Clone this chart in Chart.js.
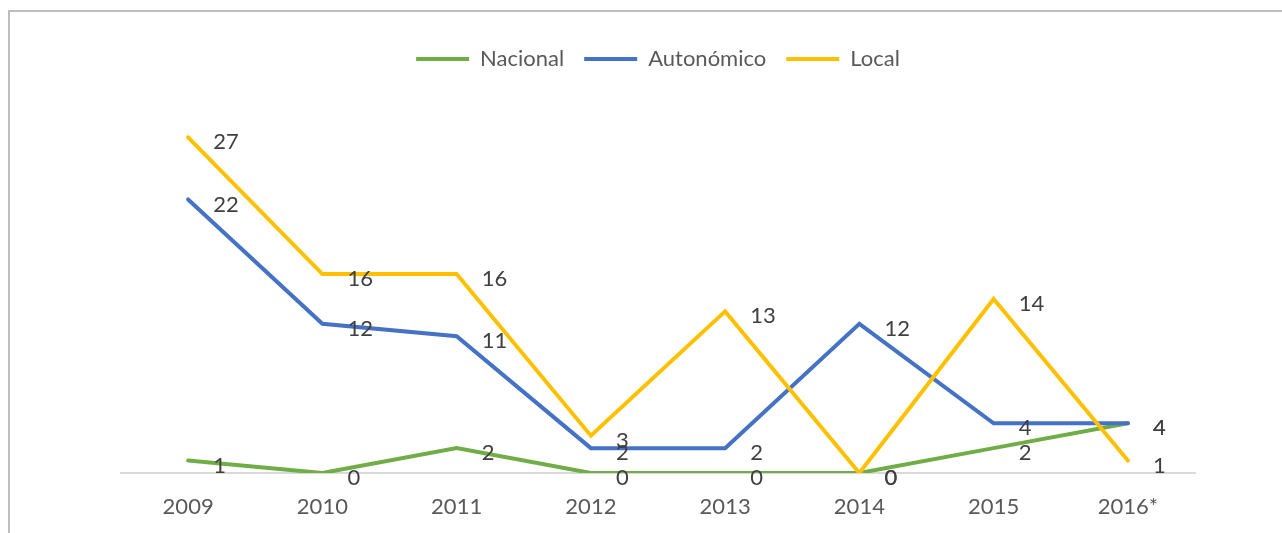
<!DOCTYPE html>
<html>
<head>
<meta charset="utf-8">
<script src="https://cdn.jsdelivr.net/npm/chart.js@4.4.0/dist/chart.umd.min.js"></script>
<style>
  body { margin: 0; background: #fff; }
  #frame { position: absolute; left: 8px; top: 10px; width: 1300px; height: 540px;
           border-left: 2px solid #bdbdbd; border-top: 2px solid #bdbdbd; }
  #wrap { position: absolute; left: 0; top: 0; width: 1282px; height: 533px; }
</style>
</head>
<body>
<div id="frame"></div>
<div id="wrap"><canvas id="lineChart"></canvas></div>
<script>
// chart data
var years = ['2009', '2010', '2011', '2012', '2013', '2014', '2015', '2016*'];
var nacional = [1, 0, 2, 0, 0, 0, 2, 4];
var autonomico = [22, 12, 11, 2, 2, 12, 4, 4];
var local = [27, 16, 16, 3, 13, 0, 14, 1];

// draws the value next to every point, like the excel labels
var valueLabels = {
  id: 'valueLabels',
  afterDatasetsDraw: function(chart) {
    let ctx = chart.ctx;
    ctx.save();
    ctx.font = '22px Lato';
    ctx.fillStyle = '#404040';
    ctx.textAlign = 'left';
    ctx.textBaseline = 'middle';
    chart.data.datasets.forEach(function(ds, i) {
      let meta = chart.getDatasetMeta(i);
      meta.data.forEach(function(pt, j) {
        ctx.fillText(String(ds.data[j]), pt.x + 25, pt.y + 5);
      });
    });
    ctx.restore();
  }
};

// more room under the legend
var legendGap = {
  id: 'legendGap',
  beforeInit: function(chart) {
    let fitOrig = chart.legend.fit;
    chart.legend.fit = function() {
      fitOrig.bind(chart.legend)();
      this.height += 20;
    };
  }
};

const ctx = document.getElementById('lineChart').getContext('2d');
var lineChart = new Chart(ctx, {
  type: 'line',
  data: {
    labels: years,
    datasets: [{
      label: 'Nacional',
      data: nacional,
      borderColor: '#70AD47',
      backgroundColor: '#70AD47',
      borderWidth: 4,
      order: 2
    }, {
      label: 'Autonómico',
      data: autonomico,
      borderColor: '#4472C4',
      backgroundColor: '#4472C4',
      borderWidth: 4,
      order: 1
    }, {
      label: 'Local',
      data: local,
      borderColor: '#FFC000',
      backgroundColor: '#FFC000',
      borderWidth: 4,
      order: 0
    }]
  },
  options: {
    responsive: true,
    maintainAspectRatio: false,
    animation: false,
    elements: {
      point: { radius: 0, hoverRadius: 0 },
      line: { tension: 0, borderCapStyle: 'round' }
    },
    layout: { padding: { left: 121, right: 87, top: 28, bottom: 0 } },
    plugins: {
      tooltip: { enabled: false },
      legend: {
        position: 'top',
        labels: {
          font: { family: 'Lato', size: 22 },
          color: '#595959',
          boxWidth: 53,
          boxHeight: 4,
          padding: 20,
          generateLabels: function(chart) {
            return chart.data.datasets.map(function(ds, i) {
              return {
                text: ds.label,
                fillStyle: ds.borderColor,
                strokeStyle: ds.borderColor,
                lineWidth: 0,
                fontColor: '#595959',
                datasetIndex: i
              };
            });
          }
        }
      }
    },
    scales: {
      x: {
        offset: true,
        grid: { display: false, drawTicks: false, offset: true },
        border: { display: true, color: '#d9d9d9', width: 2 },
        ticks: { color: '#595959', font: { family: 'Lato', size: 22 }, padding: 21 },
        afterFit: function(scale) { scale.height = 60; }
      },
      y: {
        display: false,
        min: 0,
        max: 30
      }
    }
  },
  plugins: [valueLabels, legendGap]
});
</script>
</body>
</html>
